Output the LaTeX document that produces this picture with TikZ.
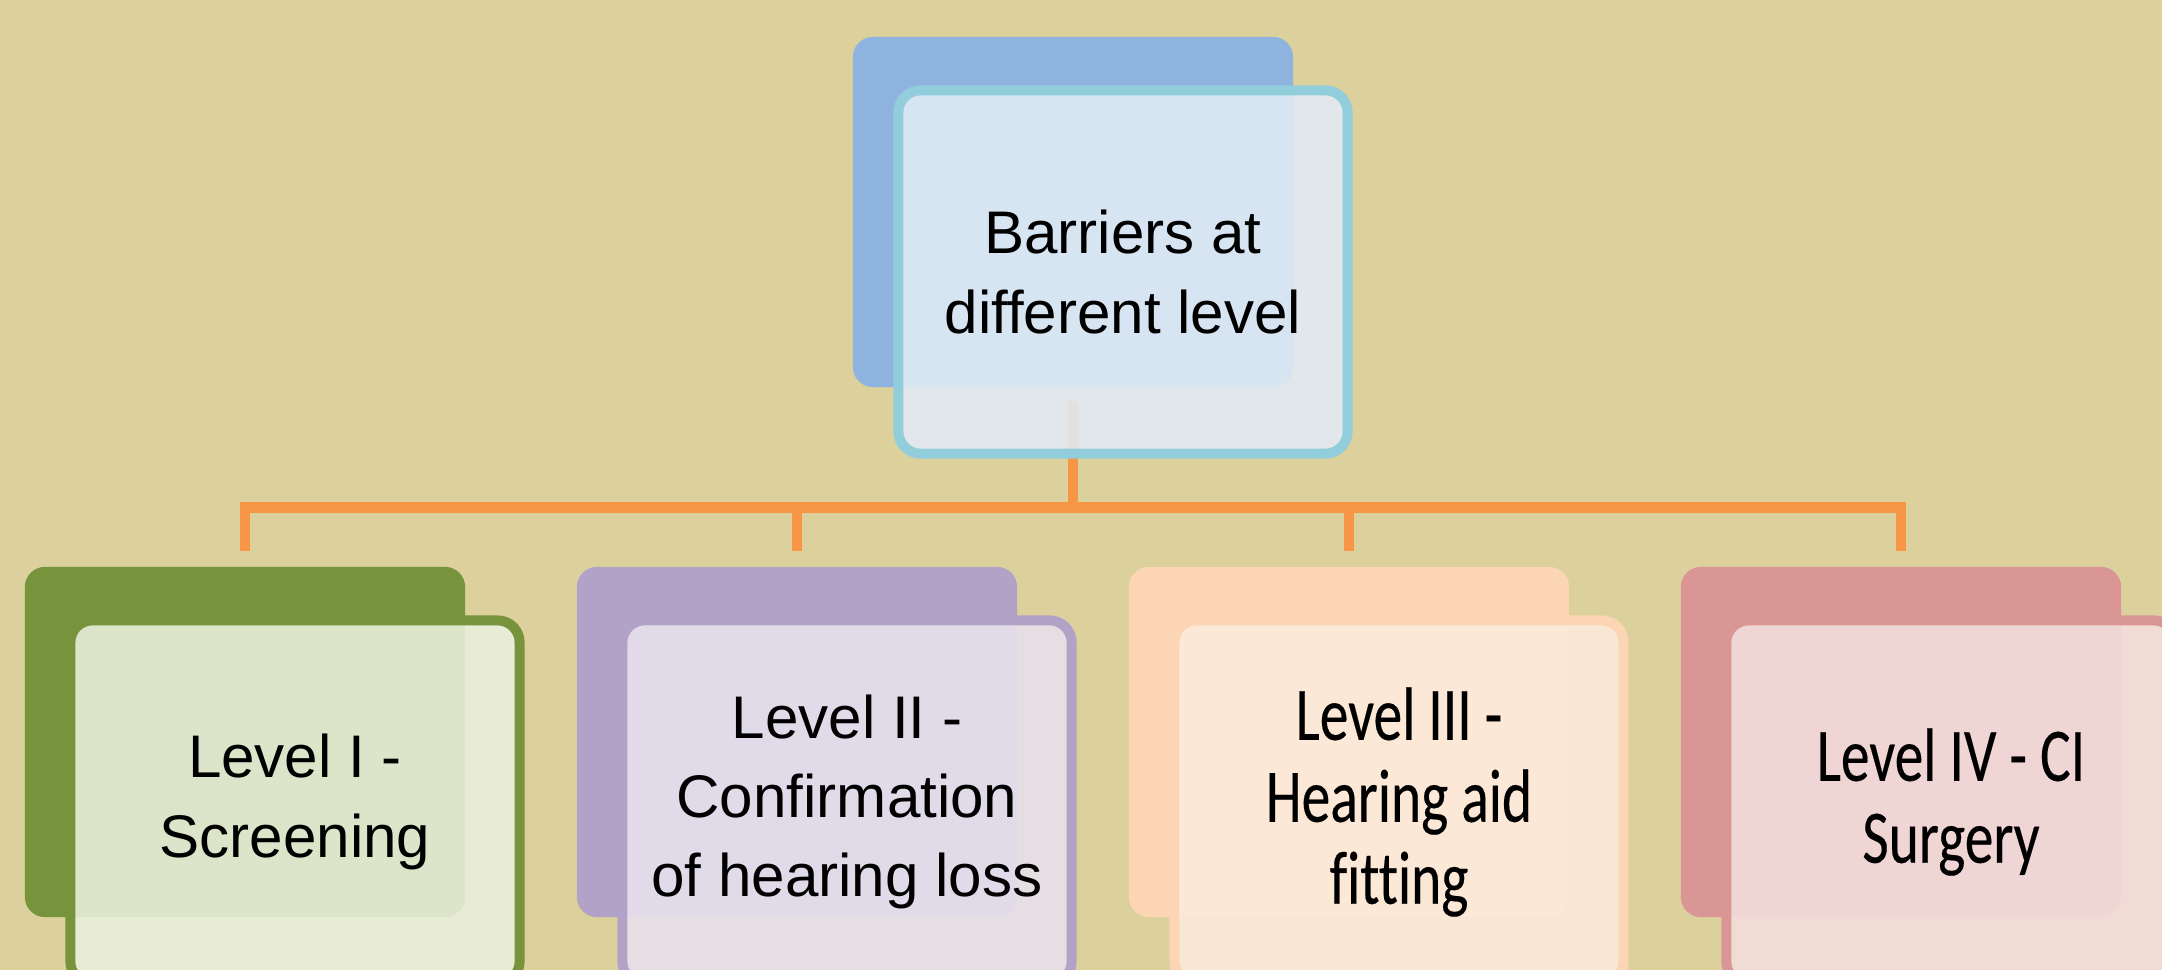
\documentclass[tikz,border=0pt]{standalone}
\usepackage{fontspec}
\setmainfont{Liberation Sans}
\newfontfamily\calfont[FakeStretch=0.76, FakeBold=0.25, Ligatures=NoCommon]{Carlito}
\definecolor{paper}{HTML}{DCD09C}
\definecolor{lineorange}{HTML}{F79646}
\definecolor{topback}{HTML}{8FB3DF}
\definecolor{topedge}{HTML}{92CDDC}
\definecolor{topfill}{HTML}{E2EBF5}
\definecolor{greenback}{HTML}{77933C}
\definecolor{greenfill}{HTML}{EBF1DE}
\definecolor{purpleback}{HTML}{B3A2C7}
\definecolor{purplefill}{HTML}{E7E2EE}
\definecolor{peachback}{HTML}{FCD5B5}
\definecolor{peachfill}{HTML}{FDEBDC}
\definecolor{redback}{HTML}{D99694}
\definecolor{redfill}{HTML}{F4DEDE}
\tikzset{
  back/.style={rectangle, rounded corners=0.2cm, inner sep=0pt,
    minimum width=4.4cm, minimum height=3.5cm},
  front/.style={rectangle, rounded corners=0.22cm, inner sep=0pt, align=center,
    line width=2.85pt, minimum width=4.49cm, minimum height=3.63cm,
    fill opacity=0.88, text opacity=1},
  conn/.style={draw=lineorange, line width=3.1pt},
  arialtext/.style={font=\fontsize{17.1pt}{22.5pt}\selectfont},
  calitext/.style={font=\calfont\fontsize{21.5pt}{23.3pt}\selectfont}
}
\begin{document}
\begin{tikzpicture}[x=0.01cm, y=-0.01cm]
            \useasboundingbox (0,0) rectangle (2162,970);
            \clip (0,0) rectangle (2162,970);
            \fill[paper] (0,0) rectangle (2162,970);

            \node[back, fill=topback] (topb) at (1073,212) {};
            \node[back, fill=greenback] (l1b) at (245,742) {};
            \node[back, fill=purpleback] (l2b) at (797,742) {};
            \node[back, fill=peachback] (l3b) at (1349,742) {};
            \node[back, fill=redback] (l4b) at (1901,742) {};

            \coordinate (hub) at (1073,507.5);
            \draw[conn] ([yshift=-0.13cm]topb.south) -- (hub);
            \foreach \b in {l1b,l2b,l3b,l4b}
              \draw[conn] (hub) -| ([yshift=0.15cm]\b.north);

            \node[front, draw=topedge, fill=topfill, arialtext] (top) at (1123,272) {Barriers at\\different level};
            \node[front, draw=greenback, fill=greenfill, arialtext] (l1) at (295,802) {Level I -\\Screening};
            \node[front, draw=purpleback, fill=purplefill, arialtext] (l2) at (847,802) {Level II -\\Confirmation\\of hearing loss};
            \node[front, draw=peachback, fill=peachfill, calitext] (l3) at (1399,802) {Level III -\\Hearing aid\\fitting};
            \node[front, draw=redback, fill=redfill, calitext] (l4) at (1951,802) {Level IV - CI\\Surgery};
        \end{tikzpicture}
\end{document}
